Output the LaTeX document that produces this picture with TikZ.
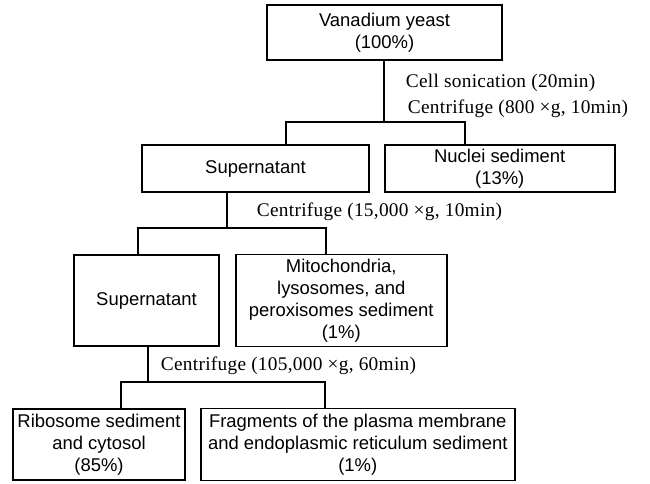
\documentclass[tikz,border=0pt]{standalone}
\usepackage{fontspec}
\setmainfont{Liberation Serif}
\setsansfont{Liberation Sans}
\newfontfamily\steplabelfont[LetterSpace=1.5]{Liberation Serif}
\usetikzlibrary{positioning}

\begin{document}
\begin{tikzpicture}[
    node distance=0.28cm, % gap between side-by-side boxes
    line width=1pt,
    stage/.style={rectangle, draw, align=center, inner sep=0pt, font=\sffamily\fontsize{10.5}{12.5}\selectfont},
    steplabel/.style={anchor=west, inner sep=0pt, font=\steplabelfont\fontsize{11}{13}\selectfont},
    link/.style={line width=1pt}
]
\useasboundingbox (0,0) rectangle (13,-9.66);

\node[stage, minimum width=4.7cm, minimum height=1.1cm] (yeast) at (7.69,-0.65) {Vanadium yeast\\(100\%)};

\node[stage, minimum width=4.54cm, minimum height=0.94cm] (sup1) at (5.11,-3.37) {Supernatant};
\node[stage, minimum width=4.6cm, minimum height=0.94cm, right=of sup1] (nuclei) {Nuclei sediment\\(13\%)};

\node[stage, minimum width=2.9cm, minimum height=1.82cm] (sup2) at (2.93,-6.01) {Supernatant};
\node[stage, minimum width=4.22cm, minimum height=1.84cm, right=0.3cm of sup2] (mito) {Mitochondria,\\lysosomes, and\\peroxisomes sediment\\(1\%)};

\node[stage, minimum width=3.44cm, minimum height=1.42cm] (ribo) at (1.98,-8.89) {Ribosome sediment\\and cytosol\\(85\%)};
\node[stage, minimum width=6.28cm, minimum height=1.44cm, right=of ribo] (frag) {Fragments of the plasma membrane\\and endoplasmic reticulum sediment\\(1\%)};

% branch points
\coordinate (j1) at (7.68,-2.44);
\coordinate (b1l) at (5.72,-2.44);
\coordinate (b1r) at (9.30,-2.44);
\coordinate (j2) at (4.54,-4.56);
\coordinate (b2l) at (2.76,-4.56);
\coordinate (b2r) at (6.52,-4.56);
\coordinate (j3) at (2.96,-7.64);
\coordinate (b3l) at (2.42,-7.64);
\coordinate (b3r) at (6.50,-7.64);

\draw[link] (yeast.south -| j1) -- (j1);
\draw[link] (sup1.north -| b1l) -- (b1l) -- (b1r) -- (nuclei.north -| b1r);
\draw[link] (sup1.south -| j2) -- (j2);
\draw[link] (sup2.north -| b2l) -- (b2l) -- (b2r) -- (mito.north -| b2r);
\draw[link] (sup2.south -| j3) -- (j3);
\draw[link] (ribo.north -| b3l) -- (b3l) -- (b3r) -- (frag.north -| b3r);

\node[steplabel] (sonic) at (8.1,-1.66) {Cell sonication (20min)};
\node[steplabel] (spin1) at (8.14,-2.18) {Centrifuge (800~×g, 10min)};
\node[steplabel] (spin2) at (5.12,-4.24) {Centrifuge (15,000~×g, 10min)};
\node[steplabel] (spin3) at (3.2,-7.32) {Centrifuge (105,000~×g, 60min)};

\end{tikzpicture}
\end{document}
